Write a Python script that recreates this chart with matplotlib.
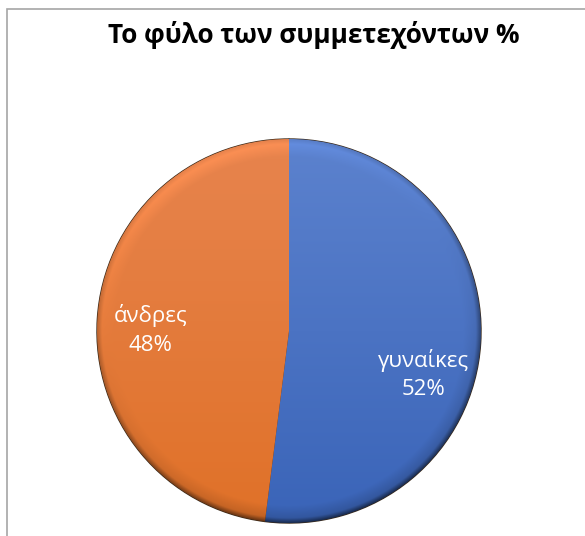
import numpy as np
import matplotlib
matplotlib.use("Agg")
import matplotlib.pyplot as plt
from matplotlib.patches import Rectangle

title = "Το φύλο των συμμετεχόντων %"
categories = ["γυναίκες", "άνδρες"]
values = [52, 48]
colors = ["#4472C4", "#ED7D31"]
# gradient end colours (top, bottom) for each slice
shade_top = [(92, 130, 206), (231, 132, 78)]
shade_bottom = [(58, 100, 184), (224, 113, 40)]

fig = plt.figure(figsize=(5.85, 5.36), dpi=100)
fig.patch.set_facecolor("white")

# chart area frame
fig.add_artist(Rectangle((6.5 / 585, -0.1), 1.2, (536 - 8.5) / 536 + 0.1,
                         transform=fig.transFigure, fill=False,
                         edgecolor="#a6a6a6", linewidth=1.2))

fig.text(314 / 585, 1 - 35 / 536, title, ha="center", va="center",
         fontsize=18.8, fontweight="bold", family=["Open Sans", "DejaVu Sans"])

ax = fig.add_axes([97 / 585, 13 / 536, 384 / 585, 384 / 536])
wedges, _ = ax.pie(values, colors=colors, startangle=90, counterclock=False,
                   radius=1.0,
                   wedgeprops=dict(edgecolor="#3a2a1a", linewidth=1.0))
ax.set_xlim(-1, 1)
ax.set_ylim(-1, 1)
ax.set_aspect("equal")
ax.axis("off")

# vertical gradient with a soft bevel on each wedge
n = 600
xs = np.linspace(-1, 1, n)
X, Y = np.meshgrid(xs, xs[::-1])
R = np.sqrt(X ** 2 + Y ** 2) + 1e-9
light = np.array([-0.35, 0.94])
facing = (X * light[0] + Y * light[1]) / R
rim = np.clip((R - 0.91) / 0.09, 0, 1)
g = (Y + 1) / 2
for w, top, bot in zip(wedges, shade_top, shade_bottom):
    top = np.array(top) / 255
    bot = np.array(bot) / 255
    img = bot[None, None, :] + (top - bot)[None, None, :] * g[..., None]
    shade = 1.0 + rim * (0.16 * facing - 0.04)
    shade = shade - np.clip((R - 0.975) / 0.025, 0, 1) * 0.25 * (1 - 0.5 * facing)
    img = np.clip(img * shade[..., None], 0, 1)
    im = ax.imshow(img, extent=(-1, 1, -1, 1), zorder=2,
                   interpolation="bilinear")
    im.set_clip_path(w)

for w in wedges:
    w.set_zorder(1)

label_font = ["Open Sans", "DejaVu Sans"]
positions = [(0.70, -0.225), (-0.72, 0.005)]
for cat, v, (px, py) in zip(categories, values, positions):
    ax.text(px, py, f"{cat}\n{v}%", ha="center", va="center", color="white",
            fontsize=16, family=label_font, linespacing=1.45, zorder=5)

fig.savefig("out.png", dpi=100)
